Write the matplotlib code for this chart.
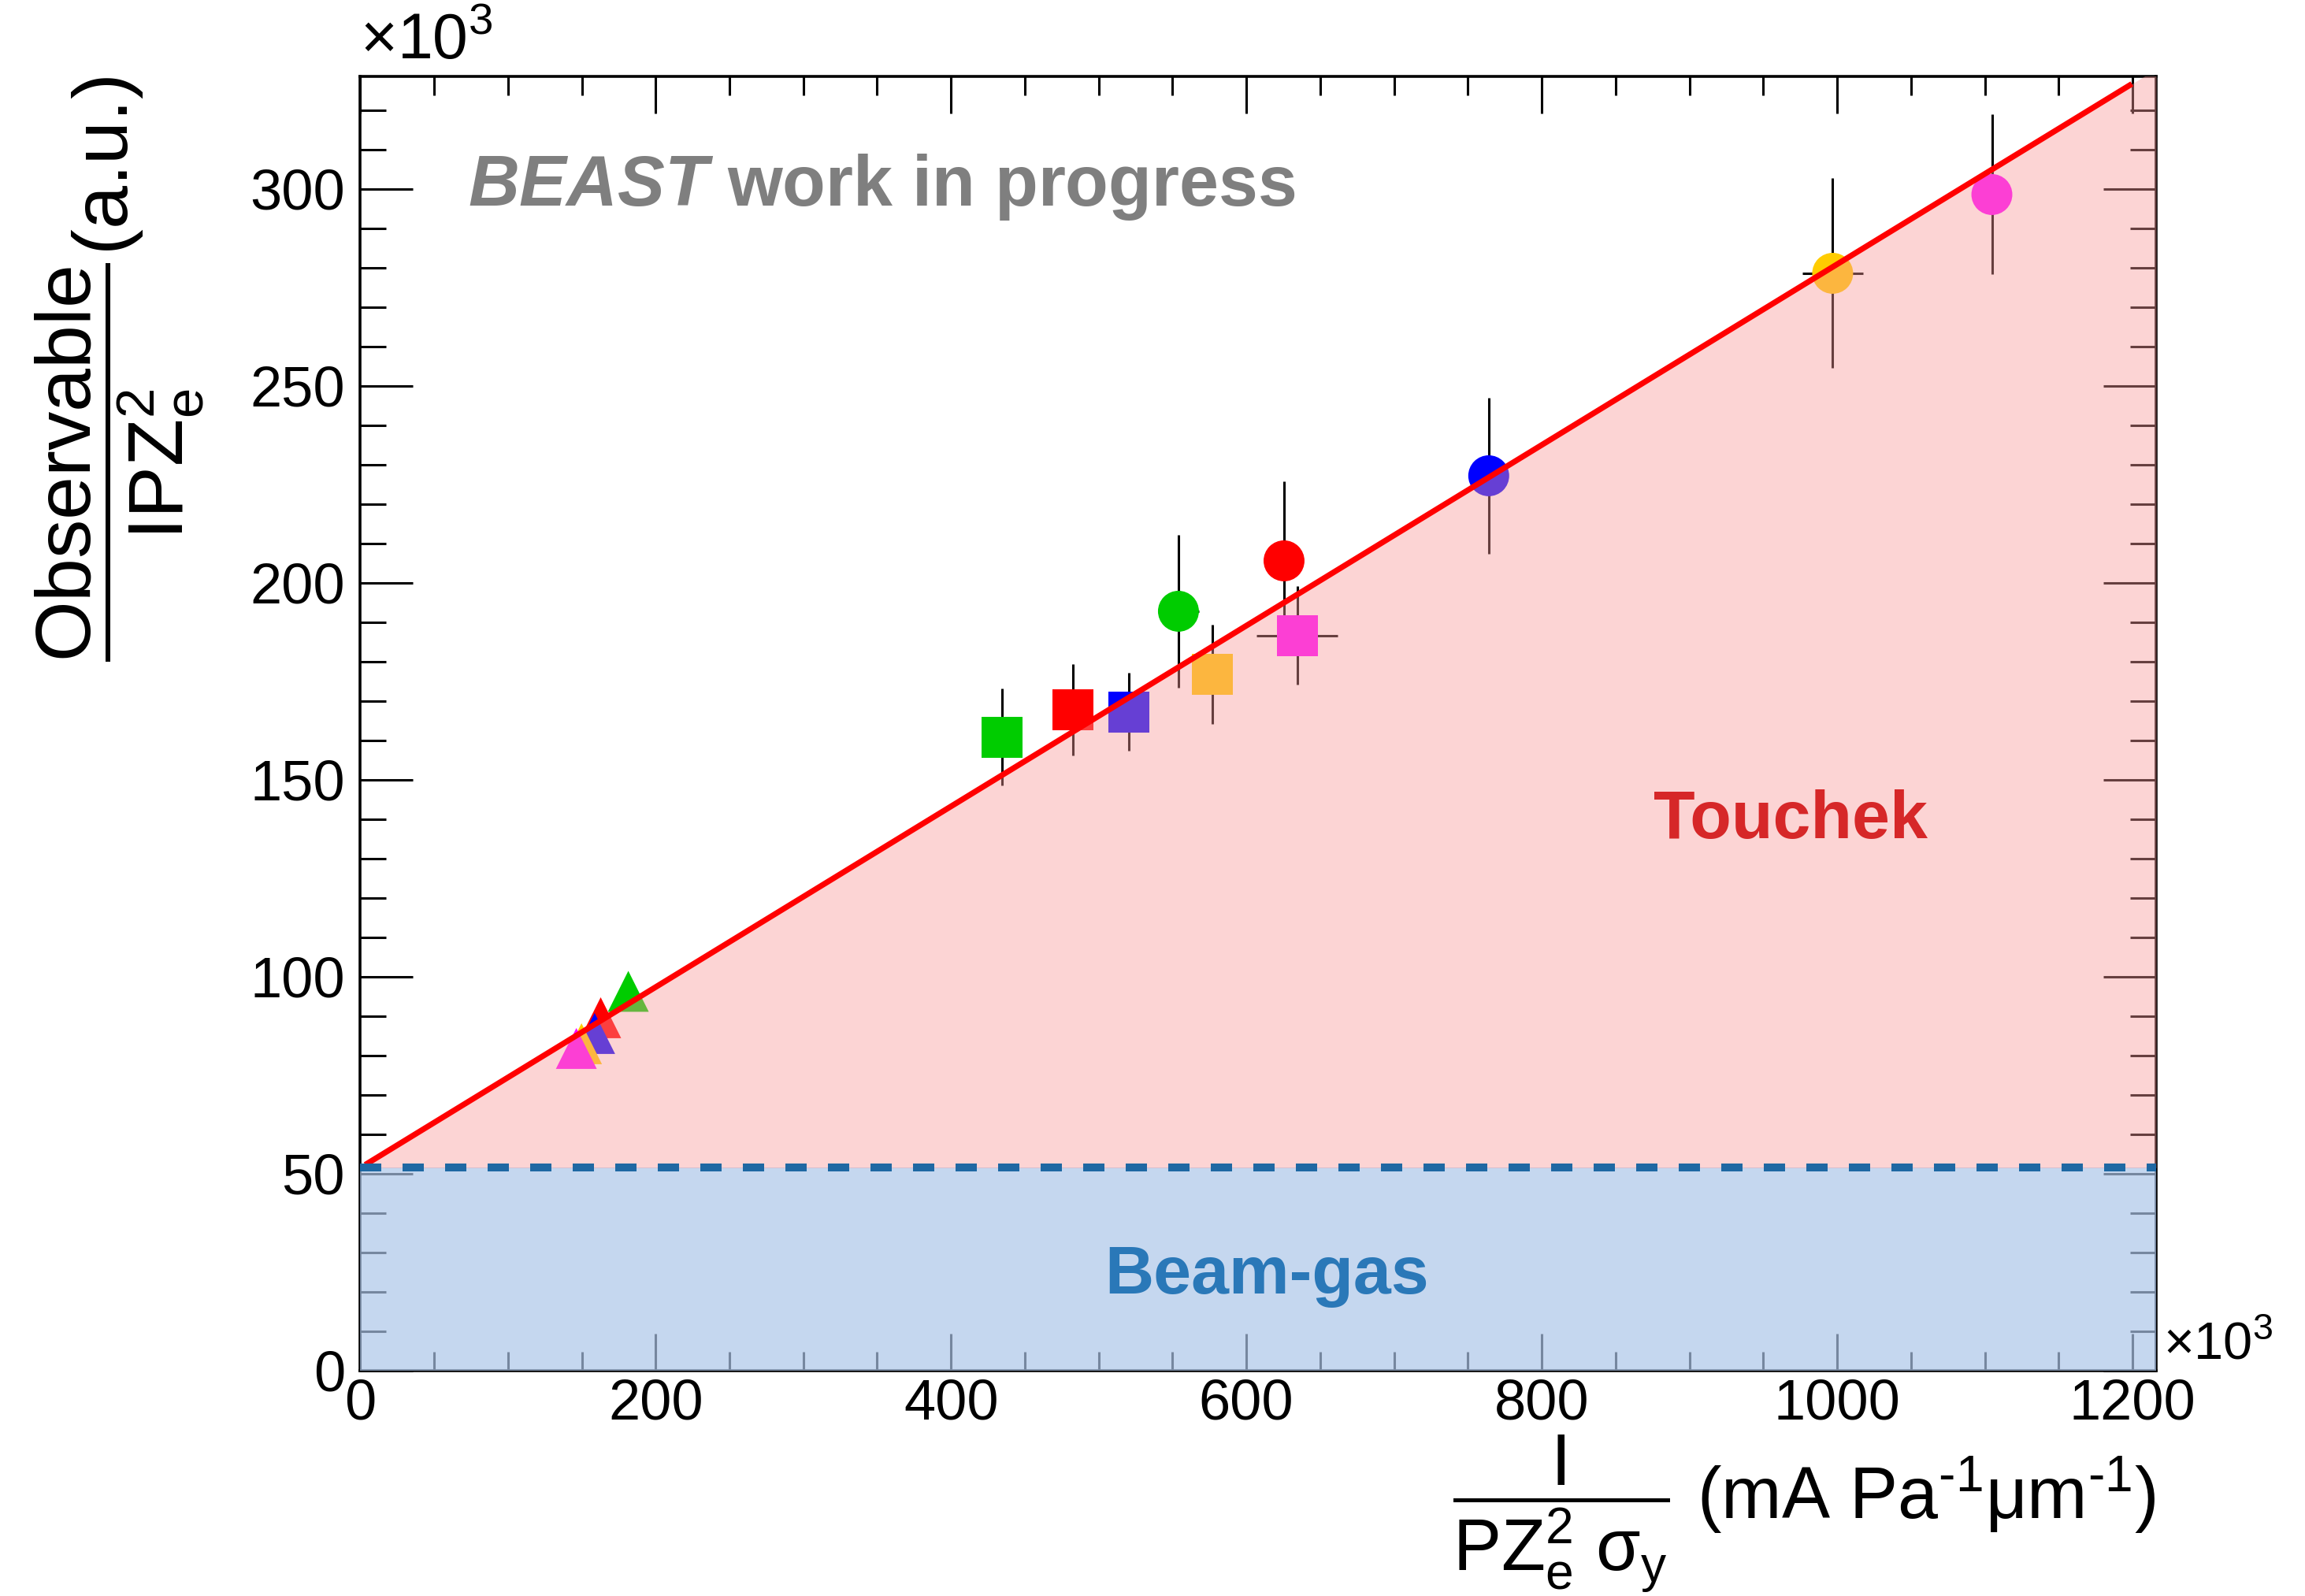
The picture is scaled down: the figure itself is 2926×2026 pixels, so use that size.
import numpy as np
import matplotlib
matplotlib.use("Agg")
import matplotlib.pyplot as plt
from matplotlib.ticker import MultipleLocator

plt.rcParams['font.family'] = ['Liberation Sans', 'DejaVu Sans']
plt.rcParams['mathtext.fontset'] = 'custom'
plt.rcParams['mathtext.rm'] = 'Liberation Sans'
plt.rcParams['mathtext.it'] = 'Liberation Sans:italic'
plt.rcParams['mathtext.bf'] = 'Liberation Sans:bold'
plt.rcParams['mathtext.bfit'] = 'Liberation Sans:italic:bold'

# all values in units of 10^3
colors = ["#00cc00", "#ff0000", "#0000ff", "#ffcc00", "#ff00ff"]

# squares
sq_x = [434.5, 482.5, 520.3, 577.0, 634.4]
sq_y = [160.8, 167.8, 167.2, 176.8, 186.6]
sq_xerr = [8, 8, 8, 8, 27.5]
sq_yerr = [12.3, 11.6, 9.9, 12.6, 12.5]

# circles
ci_x = [554.0, 625.5, 764.1, 997.0, 1104.8]
ci_y = [192.8, 205.6, 227.2, 278.6, 298.6]
ci_xerr = [14, 8, 8, 20.5, 8]
ci_yerr = [19.4, 20.2, 19.8, 24.1, 20.3]

# triangles
tr_x = [181.5, 162.8, 158.7, 149.8, 146.3]
tr_y = [96.3, 89.6, 85.6, 83.0, 81.8]
tr_yerr = [3, 3, 3, 3, 3]

beam_gas = 51.5
slope = 0.2294
fit_range = [5, 1198]
x_max = 1216
y_max = 328.5

fig = plt.figure(figsize=(14.63, 10.13), dpi=200)
ax = fig.add_axes([0.1563, 0.1412, 0.7791, 0.8107])

ms = 18.7
for xs, ys, xe, ye, mk in [(sq_x, sq_y, sq_xerr, sq_yerr, "s"),
                           (ci_x, ci_y, ci_xerr, ci_yerr, "o"),
                           (tr_x, tr_y, None, tr_yerr, "^")]:
    ax.errorbar(xs, ys, xerr=xe, yerr=ye, fmt="none", ecolor="black",
                elinewidth=1.1, capsize=0, zorder=2.6)
    ax.scatter(xs, ys, s=ms**2, c=colors, marker=mk, linewidths=0, zorder=2.8)

# beam-gas and touschek bands (transparent, drawn over frame and points)
ax.axhspan(0, beam_gas, color=(172/255, 197/255, 232/255), alpha=0.69, lw=0, zorder=3)
xx = np.array([0, x_max])
ax.fill_between(xx, beam_gas, beam_gas + slope * xx,
                color=(248/255, 152/255, 152/255), alpha=0.415, lw=0, zorder=3)

fx = np.array(fit_range)
ax.plot(fx, beam_gas + slope * fx, color="red", lw=2.6, zorder=4)
ax.axhline(beam_gas, color="#1f68a3", lw=3.6, dashes=(2.7, 2.7), zorder=5)

ax.set_xlim(0, x_max)
ax.set_ylim(0, y_max)

ax.xaxis.set_major_locator(MultipleLocator(200))
ax.xaxis.set_minor_locator(MultipleLocator(50))
ax.yaxis.set_major_locator(MultipleLocator(50))
ax.yaxis.set_minor_locator(MultipleLocator(10))
ax.tick_params(axis="both", which="both", direction="in", top=True, right=True,
               width=1.1, labelsize=26, color="black")
ax.tick_params(axis="x", which="major", length=17, pad=3.5)
ax.tick_params(axis="x", which="minor", length=8.6)
ax.tick_params(axis="y", which="major", length=24, pad=7)
ax.tick_params(axis="y", which="minor", length=12)
for sp in ax.spines.values():
    sp.set_linewidth(1.3)

ax.set_ylabel(r"$\dfrac{\mathrm{Observable}}{\mathrm{IPZ_e^2}}$(a.u.)", fontsize=35.5, loc="top")
ax.yaxis.set_label_coords(-0.086, 1.0)
ax.set_xlabel(r"$\dfrac{\mathrm{I}}{\mathrm{PZ_e^2\ \sigma_y}}$ (mA Pa$^{\text{-}1}$μm$^{\text{-}1}$)",
              fontsize=33, loc="right")
ax.xaxis.set_label_coords(1.0, -0.048)

ax.text(0, 1.004, "×10$^3$", transform=ax.transAxes, ha="left", va="bottom", fontsize=29)
ax.text(1.004, 0, "×10$^3$", transform=ax.transAxes, ha="left", va="bottom", fontsize=24)

ax.text(0.0599, 0.9005, r"$\mathbfit{BEAST}$ work in progress", transform=ax.transAxes,
        ha="left", va="baseline", fontsize=32.3, fontweight="bold", color="#7f7f7f", zorder=6)
ax.text(0.7965, 0.4116, "Touchek", transform=ax.transAxes, ha="center", va="baseline",
        fontsize=31, fontweight="bold", color="#d62728", zorder=6)
ax.text(0.5049, 0.0597, "Beam-gas", transform=ax.transAxes, ha="center", va="baseline",
        fontsize=31, fontweight="bold", color="#2a78b8", zorder=6)

fig.savefig("out.png", dpi=200)
